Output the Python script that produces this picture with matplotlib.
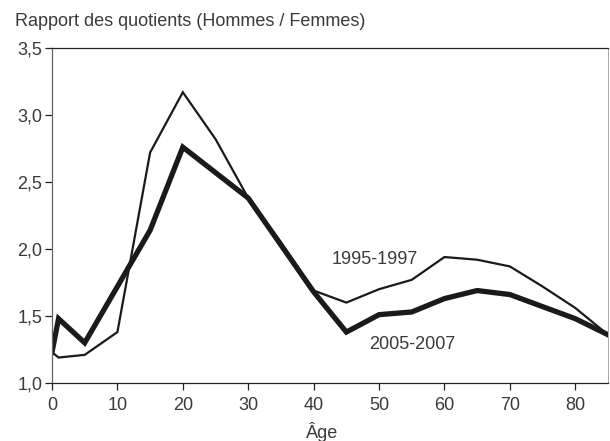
import matplotlib
matplotlib.use("Agg")
import matplotlib.pyplot as plt
from matplotlib.ticker import FuncFormatter

# Age groups
ages = [0, 1, 5, 10, 15, 20, 25, 30, 35, 40, 45, 50, 55, 60, 65, 70, 75, 80, 85]

# Ratio of mortality rates, men / women
ratio_1995 = [1.23, 1.19, 1.21, 1.38, 2.72, 3.17, 2.82, 2.38, 2.05, 1.69, 1.60,
              1.70, 1.77, 1.94, 1.92, 1.87, 1.72, 1.56, 1.36]
ratio_2005 = [1.23, 1.48, 1.30, 1.72, 2.14, 2.76, 2.57, 2.38, 2.03, 1.68, 1.38,
              1.51, 1.53, 1.63, 1.69, 1.66, 1.57, 1.48, 1.36]

x_ticks = [0, 10, 20, 30, 40, 50, 60, 70, 80]
y_ticks = [1.0, 1.5, 2.0, 2.5, 3.0, 3.5]

plt.rcParams['font.family'] = ['Liberation Sans', 'DejaVu Sans']
text_col = '#3a3a3a'
line_col = '#1a1a1a'
fs = 13

fig = plt.figure(figsize=(6.10, 4.41), dpi=100)
ax = fig.add_axes([52 / 610, 1 - 383 / 441, (608 - 52) / 610, (383 - 48) / 441])

ax.plot(ages, ratio_1995, color=line_col, lw=1.6, solid_joinstyle='miter')
ax.plot(ages, ratio_2005, color=line_col, lw=3.8, solid_joinstyle='miter')

ax.set_xlim(0, 85)
ax.set_ylim(1.0, 3.5)
ax.set_xticks(x_ticks)
ax.set_yticks(y_ticks)
ax.yaxis.set_major_formatter(FuncFormatter(lambda v, p: ('%.1f' % v).replace('.', ',')))

for s in ax.spines.values():
    s.set_linewidth(0.9)
    s.set_color('#222222')
ax.spines['left'].set_color('#666666')
ax.spines['right'].set_color('#999999')
ax.spines['right'].set_linewidth(0.6)

ax.tick_params(direction='out', length=5, width=0.9, colors='#222222',
               labelsize=fs, labelcolor=text_col)
ax.tick_params(axis='x', pad=5)
ax.tick_params(axis='y', pad=2)

ax.text(49.3, 1.92, '1995-1997', ha='center', va='center', fontsize=fs, color=text_col)
ax.text(55.1, 1.29, '2005-2007', ha='center', va='center', fontsize=fs, color=text_col)

fig.text(15 / 610, 1 - 21 / 441, 'Rapport des quotients (Hommes / Femmes)',
         ha='left', va='center', fontsize=fs, color=text_col)
fig.text(322 / 610, 1 - 432 / 441, 'Âge', ha='center', va='center',
         fontsize=fs, color=text_col)

fig.savefig('out.png', dpi=100)
